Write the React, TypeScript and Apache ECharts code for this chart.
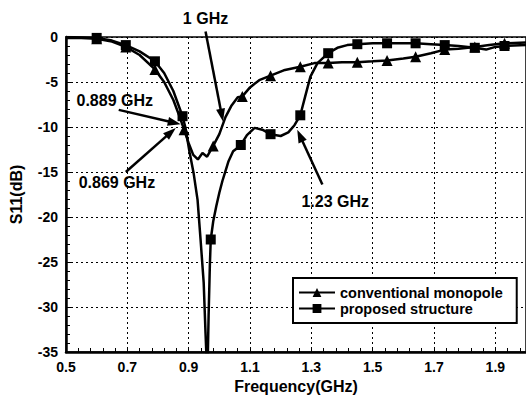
import React, { useEffect, useRef } from "react";
import * as echarts from "echarts";

// ---- Data ----
const conventionalFreq = [0.5, 0.55, 0.6, 0.65, 0.695, 0.74, 0.79, 0.82, 0.85, 0.87, 0.885, 0.9, 0.915, 0.93, 0.945, 0.96, 0.98, 1.0, 1.02, 1.04, 1.06, 1.075, 1.1, 1.13, 1.167, 1.21, 1.264, 1.31, 1.355, 1.4, 1.45, 1.5, 1.547, 1.6, 1.64, 1.69, 1.735, 1.78, 1.833, 1.88, 1.93, 2.0];
const conventionalS11 = [-0.1, -0.1, -0.2, -0.5, -1.1, -2.0, -3.6, -5.0, -7.0, -8.8, -10.3, -11.8, -13.1, -13.6, -12.9, -13.3, -12.1, -10.8, -8.9, -7.6, -6.7, -6.6, -5.6, -4.8, -4.3, -3.7, -3.3, -2.9, -2.9, -2.8, -2.8, -2.7, -2.6, -2.4, -2.2, -1.8, -1.4, -1.3, -1.1, -0.9, -0.7, -0.6];
const conventionalMarkers = [0.6, 0.695, 0.79, 0.885, 0.98, 1.075, 1.167, 1.264, 1.355, 1.45, 1.547, 1.64, 1.735, 1.833, 1.93];

const proposedFreq = [0.5, 0.55, 0.6, 0.65, 0.695, 0.74, 0.79, 0.82, 0.85, 0.88, 0.889, 0.903, 0.916, 0.929, 0.939, 0.949, 0.955, 0.961, 0.965, 0.969, 0.972, 0.98, 0.99, 1.0, 1.01, 1.02, 1.03, 1.045, 1.06, 1.07, 1.09, 1.115, 1.14, 1.167, 1.2, 1.225, 1.245, 1.264, 1.28, 1.297, 1.32, 1.355, 1.385, 1.417, 1.45, 1.5, 1.547, 1.6, 1.64, 1.69, 1.735, 1.78, 1.833, 1.87, 1.9, 1.93, 2.0];
const proposedS11 = [0, -0.05, -0.1, -0.4, -0.9, -1.6, -2.7, -4.0, -6.0, -8.8, -10.0, -12.8, -15.1, -18.1, -22.6, -27.3, -32.9, -38, -31, -25.5, -22.5, -20.5, -18.8, -17.3, -16.0, -14.9, -13.8, -12.7, -12.3, -12.0, -10.9, -10.1, -10.3, -10.8, -11.0, -10.6, -9.8, -8.7, -6.6, -4.4, -2.9, -1.8, -1.2, -0.9, -0.8, -0.7, -0.7, -0.7, -0.7, -0.8, -0.9, -1.0, -1.2, -1.4, -1.1, -1.0, -0.9];
const proposedMarkers = [0.6, 0.695, 0.79, 0.88, 0.972, 1.07, 1.167, 1.264, 1.355, 1.45, 1.547, 1.64, 1.735, 1.833, 1.93];

const seriesNames = ["conventional monopole", "proposed structure"];

// annotations: label, text anchor [GHz, dB], arrow start, arrow tip
const annLabels = ["1 GHz", "0.889 GHz", "0.869 GHz", "1.23 GHz"];
const annText = [[0.955, 2.1], [0.659, -7.1], [0.666, -16.2], [1.378, -18.3]];
const annFrom = [[0.955, 0.6], [0.672, -8.1], [0.695, -15.0], [1.336, -16.4]];
const annTo = [[1.012, -9.4], [0.874, -9.7], [0.858, -10.1], [1.254, -10.3]];

const FONT = "'Liberation Sans', Arial, Helvetica, sans-serif";

function buildData(freq: number[], vals: number[], markers: number[]) {
  return freq.map((f, i) => {
    const isMarker = markers.some((m) => Math.abs(m - f) < 1e-6);
    return isMarker ? { value: [f, vals[i]] } : { value: [f, vals[i]], symbol: "none" };
  });
}

export default function App() {
  const ref = useRef<HTMLDivElement>(null);
  useEffect(() => {
    if (!ref.current) return;
    const chart = echarts.init(ref.current, undefined, { renderer: "svg" });
    const axisLabelStyle = { fontFamily: FONT, fontWeight: "bold" as const, fontSize: 14, color: "#000" };
    chart.setOption({
      animation: false,
      backgroundColor: "#fff",
      grid: { left: 65, right: 0, top: 37, bottom: 52, show: true, borderColor: "#000", borderWidth: 1.5, backgroundColor: "transparent" },
      xAxis: {
        type: "value",
        min: 0.5,
        max: 2.0,
        interval: 0.2,
        name: "Frequency(GHz)",
        nameLocation: "middle",
        nameGap: 24,
        nameTextStyle: { fontFamily: FONT, fontWeight: "bold", fontSize: 16, color: "#000" },
        axisLine: { show: true, onZero: false, lineStyle: { color: "#000", width: 2.5 } },
        axisTick: { show: true, inside: true, length: 5, lineStyle: { color: "#000", width: 1 } },
        minorTick: { show: true, splitNumber: 5, length: 4, lineStyle: { color: "#000", width: 1 } },
        axisLabel: { ...axisLabelStyle, margin: 8, showMaxLabel: false, formatter: (v: number) => v.toFixed(1) },
        splitLine: { show: true, lineStyle: { color: "#000", width: 1, type: [2, 3] } },
      },
      yAxis: {
        type: "value",
        min: -35,
        max: 0,
        interval: 5,
        name: "S11(dB)",
        nameLocation: "middle",
        nameGap: 42,
        nameRotate: 90,
        nameTextStyle: { fontFamily: FONT, fontWeight: "bold", fontSize: 16, color: "#000" },
        axisLine: { show: true, onZero: false, lineStyle: { color: "#000", width: 2.5 } },
        axisTick: { show: true, inside: true, length: 5, lineStyle: { color: "#000", width: 1 } },
        minorTick: { show: true, splitNumber: 5, length: 4, lineStyle: { color: "#000", width: 1 } },
        axisLabel: { ...axisLabelStyle, margin: 8 },
        splitLine: { show: true, lineStyle: { color: "#000", width: 1, type: [2, 3] } },
      },
      legend: {
        orient: "vertical",
        left: 293,
        top: 278,
        padding: [7, 14, 7, 5],
        itemGap: 1,
        itemWidth: 36,
        itemHeight: 11,
        borderColor: "#000",
        borderWidth: 2,
        backgroundColor: "#fff",
        textStyle: { fontFamily: FONT, fontWeight: "bold", fontSize: 14.5, color: "#000" },
        data: seriesNames,
      },
      series: [
        {
          name: seriesNames[0],
          type: "line",
          symbol: "triangle",
          symbolSize: 11,
          showSymbol: true,
          showAllSymbol: true,
          clip: true,
          lineStyle: { color: "#000", width: 2.5 },
          itemStyle: { color: "#000" },
          data: buildData(conventionalFreq, conventionalS11, conventionalMarkers),
          z: 3,
        },
        {
          name: seriesNames[1],
          type: "line",
          symbol: "rect",
          symbolSize: 10,
          showSymbol: true,
          showAllSymbol: true,
          clip: true,
          lineStyle: { color: "#000", width: 2.5 },
          itemStyle: { color: "#000" },
          data: buildData(proposedFreq, proposedS11, proposedMarkers),
          z: 3,
        },
      ],
    });

    // annotations placed through the chart's own coordinate system
    const graphics: any[] = [];
    annLabels.forEach((label, i) => {
      const tp = chart.convertToPixel({ gridIndex: 0 }, annText[i]) as number[];
      const s = chart.convertToPixel({ gridIndex: 0 }, annFrom[i]) as number[];
      const t = chart.convertToPixel({ gridIndex: 0 }, annTo[i]) as number[];
      const dx = t[0] - s[0];
      const dy = t[1] - s[1];
      const len = Math.sqrt(dx * dx + dy * dy);
      const ux = dx / len;
      const uy = dy / len;
      const L = 13;
      const W = 4.5;
      const bx = t[0] - ux * L;
      const by = t[1] - uy * L;
      graphics.push({
        type: "line",
        shape: { x1: s[0], y1: s[1], x2: bx + ux * 2, y2: by + uy * 2 },
        style: { stroke: "#000", lineWidth: 2.5 },
        z: 10,
      });
      graphics.push({
        type: "polygon",
        shape: { points: [[t[0], t[1]], [bx - uy * W, by + ux * W], [bx + uy * W, by - ux * W]] },
        style: { fill: "#000" },
        z: 10,
      });
      graphics.push({
        type: "text",
        x: tp[0],
        y: tp[1],
        style: { text: label, font: `bold 16px ${FONT}`, fill: "#000", align: "center", verticalAlign: "middle" },
        z: 10,
      });
    });
    chart.setOption({ graphic: graphics });

    return () => chart.dispose();
  }, []);
  return <div ref={ref} style={{ position: "fixed", left: 0, top: 0, width: 526, height: 404 }} />;
}
